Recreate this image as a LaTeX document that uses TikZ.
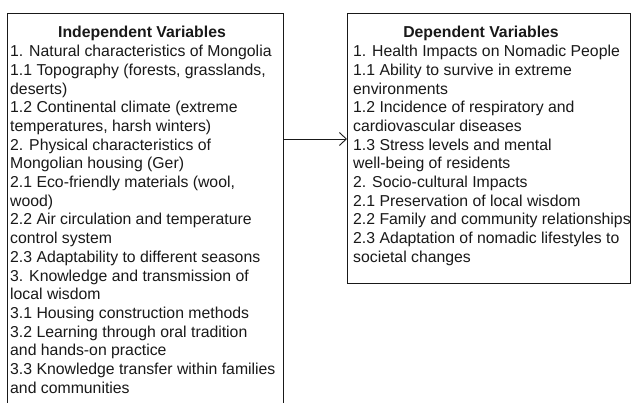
\documentclass[tikz,border=0pt]{standalone}
\usepackage{fontspec}
\setmainfont{Liberation Sans}
\usetikzlibrary{arrows.meta}
\begin{document}
\begin{tikzpicture}[x=1pt,y=-1pt,
  frame/.style={draw=black!90, line width=0.9pt, inner sep=0pt, anchor=north west},
  txt/.style={inner sep=0pt, anchor=base west, text=black!90, font=\fontsize{15.8}{18.7}\selectfont},
  ttl/.style={inner sep=0pt, anchor=base, text=black!90, font=\fontsize{15.8}{18.7}\selectfont\bfseries},
  arr/.style={draw=black!90, line width=0.9pt, -{Straight Barb[length=7pt,width=13pt]}}]
\clip (0,0) rectangle (632,403);
\fill[white] (0,0) rectangle (632,403);
\node[frame, minimum width=276pt, minimum height=420pt] (indep) at (7,13) {};
\node[frame, minimum width=283pt, minimum height=270pt] (dep) at (347,13) {};
\node[ttl] (indtitle) at (142,38) {Independent Variables};
\node[ttl] (deptitle) at (481,38) {Dependent Variables};
\foreach \t [count=\i] in {
  {1. Natural characteristics of Mongolia},
  {1.1 Topography (forests, grasslands,},
  {deserts)},
  {1.2 Continental climate (extreme},
  {temperatures, harsh winters)},
  {2. Physical characteristics of},
  {Mongolian housing (Ger)},
  {2.1 Eco-friendly materials (wool,},
  {wood)},
  {2.2 Air circulation and temperature},
  {control system},
  {2.3 Adaptability to different seasons},
  {3. Knowledge and transmission of},
  {local wisdom},
  {3.1 Housing construction methods},
  {3.2 Learning through oral tradition},
  {and hands-on practice},
  {3.3 Knowledge transfer within families},
  {and communities}}
  \node[txt] (L\i) at (10,38+18.7*\i) {\t};
\foreach \t [count=\i] in {
  {1. Health Impacts on Nomadic People},
  {1.1 Ability to survive in extreme},
  {environments},
  {1.2 Incidence of respiratory and},
  {cardiovascular diseases},
  {1.3 Stress levels and mental},
  {well-being of residents},
  {2. Socio-cultural Impacts},
  {2.1 Preservation of local wisdom},
  {2.2 Family and community relationships},
  {2.3 Adaptation of nomadic lifestyles to},
  {societal changes}}
  \node[txt] (R\i) at (353,38+18.7*\i) {\t};
\coordinate (ay) at (0,139);
\draw[arr] (indep.east |- ay) -- (dep.west |- ay);
\end{tikzpicture}
\end{document}
